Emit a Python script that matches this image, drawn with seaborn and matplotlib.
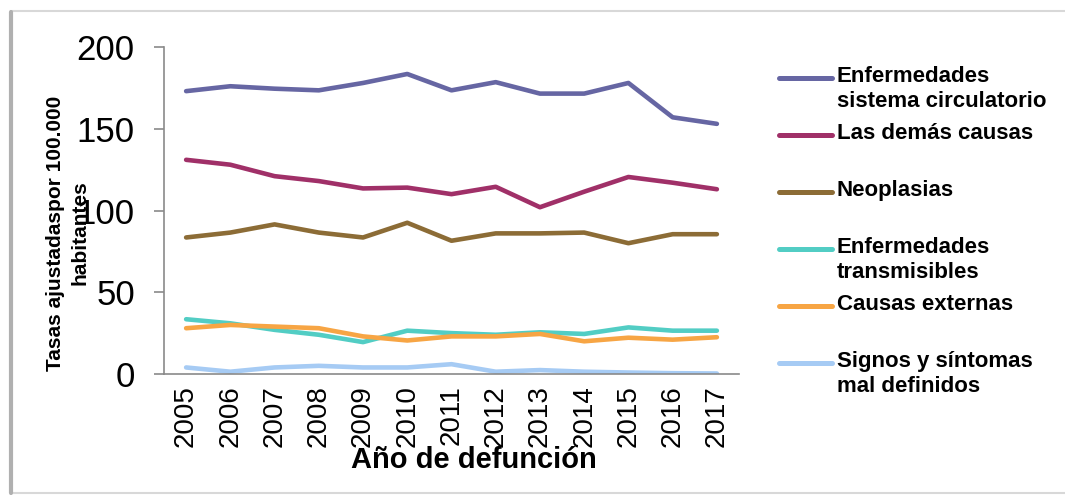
import numpy as np
import pandas as pd
import matplotlib.pyplot as plt
import seaborn as sns
from matplotlib.lines import Line2D
from matplotlib.patches import Rectangle

# data
years = list(range(2005, 2018))
circulatorio = [173, 176, 174.5, 173.5, 178, 183.5, 173.5, 178.5, 171.5, 171.5, 178, 157, 153]
demas_causas = [131, 128, 121, 118, 113.5, 114, 110, 114.5, 102, 111.5, 120.5, 117, 113]
neoplasias = [83.5, 86.5, 91.5, 86.5, 83.5, 92.5, 81.5, 86, 86, 86.5, 80, 85.5, 85.5]
transmisibles = [33.5, 31, 27, 24, 19.5, 26.5, 25, 24, 25.5, 24.5, 28.5, 26.5, 26.5]
externas = [28, 30, 29, 28, 23, 20.5, 23, 23, 24.5, 20, 22.2, 21, 22.5]
mal_definidos = [4, 1.4, 4, 5, 4, 4, 6, 1.4, 2.4, 1.4, 0.9, 0.5, 0.3]

labels = [
    "Enfermedades\nsistema circulatorio",
    "Las demás causas",
    "Neoplasias",
    "Enfermedades\ntransmisibles",
    "Causas externas",
    "Signos y síntomas\nmal definidos",
]
colors = ["#6666a3", "#a03068", "#8c6c36", "#52cdc4", "#f7a544", "#a6cbf4"]
series = [circulatorio, demas_causas, neoplasias, transmisibles, externas, mal_definidos]

df = pd.concat(
    [pd.DataFrame({"anio": years, "tasa": vals, "causa": lab}) for lab, vals in zip(labels, series)],
    ignore_index=True,
)

sns.set_style("white")
plt.rcParams["font.family"] = ["Liberation Sans Narrow", "Liberation Sans", "DejaVu Sans"]
plt.rcParams["text.color"] = "black"

W, H = 1065, 497
fig = plt.figure(figsize=(W / 100, H / 100), dpi=100)
ax = fig.add_axes([164 / W, 1 - 374 / H, 575 / W, 327 / H])

sns.lineplot(data=df, x="anio", y="tasa", hue="causa", palette=dict(zip(labels, colors)),
             linewidth=3.3, legend=False, sort=False, ax=ax)

ax.set_xlim(2004.5, 2017.5)
ax.set_ylim(0, 200)
ax.set_yticks([0, 50, 100, 150, 200])
ax.set_xticks(years)
ax.set_xticks(np.arange(2004.5, 2018, 1), minor=True)
ax.tick_params(axis="x", which="major", length=0, pad=8, labelsize=20, labelrotation=90,
               labelcolor="black")
ax.tick_params(axis="x", which="minor", length=7, width=1.2, color="#8a8a8a", direction="out")
ax.tick_params(axis="y", length=7, width=1.2, color="#8a8a8a", direction="out", pad=14,
               labelsize=25, left=True, labelcolor="black")

for side in ["top", "right"]:
    ax.spines[side].set_visible(False)
for side in ["left", "bottom"]:
    ax.spines[side].set_color("#8a8a8a")
    ax.spines[side].set_linewidth(1.2)

ax.set_xlabel("Año de defunción", fontsize=21, fontweight="bold", color="black")
ax.xaxis.set_label_coords((474 - 164) / 575, -(446 - 374) / 327)
ax.set_ylabel("")
fig.text(68 / W, 1 - 233 / H, "Tasas ajustadaspor 100.000\nhabitantes", rotation=90,
         ha="center", va="center", fontsize=15, fontweight="bold", multialignment="center",
         linespacing=1.35)

# legend drawn by hand so the first text line lines up with its handle
for i, (lab, col) in enumerate(zip(labels, colors)):
    y = 1 - (78 + 57 * i) / H
    fig.add_artist(Line2D([779 / W, 832 / W], [y, y], color=col, linewidth=3.6, solid_capstyle="round"))
    fig.text(837 / W, y + 12 / H, lab, ha="left", va="top", fontsize=16, fontweight="bold",
             linespacing=1.25)

# picture frame with a soft shadow on the left
fig.add_artist(Rectangle((11 / W, 1 - 493 / H), (W + 5) / W, 482 / H, fill=False,
                         edgecolor="#d8d8d8", linewidth=1.5))
fig.add_artist(Line2D([11 / W, 11 / W], [1 - 493 / H, 1 - 12 / H], color="#b0b0b0", linewidth=3))

fig.savefig("out.png", dpi=100)
